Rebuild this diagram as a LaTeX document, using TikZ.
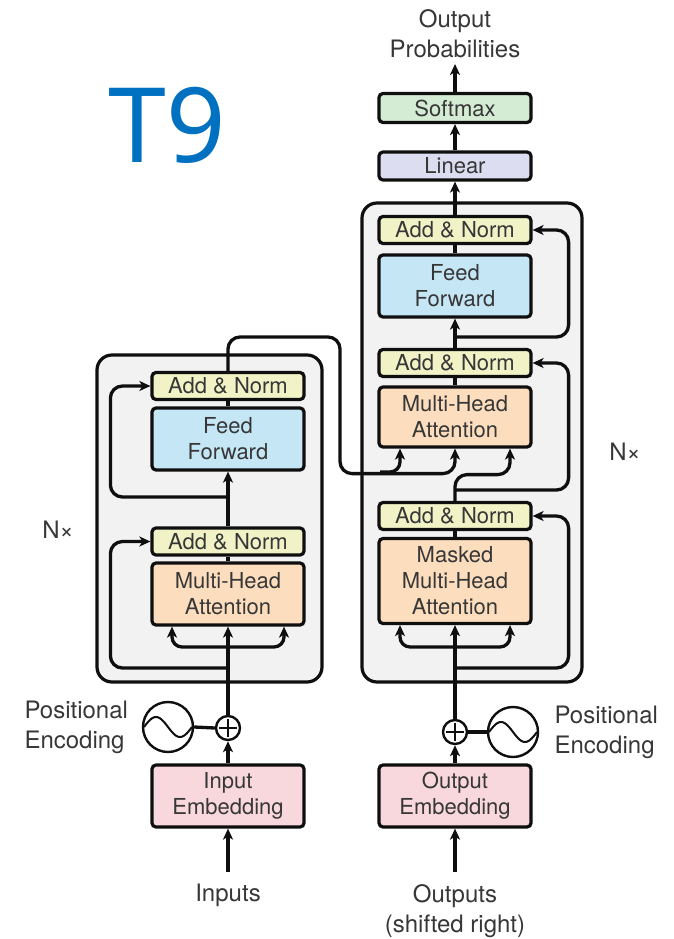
\documentclass[tikz,border=0pt]{standalone}
\usepackage{fontspec}
\setmainfont{TeX Gyre Heros}
\newfontfamily\titlefont{Noto Sans}
\usetikzlibrary{arrows.meta}

\definecolor{addnorm}{RGB}{241,243,199}
\definecolor{ffblue}{RGB}{197,230,245}
\definecolor{mhaorange}{RGB}{252,222,190}
\definecolor{embpink}{RGB}{248,216,221}
\definecolor{smgreen}{RGB}{212,235,212}
\definecolor{linlav}{RGB}{220,221,240}
\definecolor{panelgray}{RGB}{242,242,242}
\definecolor{inkline}{RGB}{15,15,15}
\definecolor{inktext}{RGB}{55,55,55}
\definecolor{titleblue}{RGB}{0,112,192}

\begin{document}
\begin{tikzpicture}[x=1pt,y=-1pt,
  line/.style={draw=inkline, line width=3.3pt, line join=round},
  arr/.style={line, -{Stealth[length=11pt,width=10pt,inset=3pt]}},
  blk/.style={draw=inkline, line width=3.2pt, rounded corners=4pt, inner sep=0pt,
    minimum width=152pt, text=inktext, align=center,
    font=\fontsize{22}{26}\selectfont},
  an/.style={blk, fill=addnorm, minimum height=27pt},
  ffb/.style={blk, fill=ffblue, minimum height=62pt},
  mhab/.style={blk, fill=mhaorange},
  embb/.style={blk, fill=embpink, minimum height=62pt},
  panel/.style={draw=inkline, line width=3.2pt, rounded corners=15pt,
    fill=panelgray, inner sep=0pt},
  lab/.style={text=inktext, align=center, font=\fontsize{24}{30}\selectfont},
  pluscirc/.style={circle, draw=inkline, line width=2.4pt, fill=white,
    minimum size=24pt, inner sep=0pt},
  wavecirc/.style={circle, draw=inkline, line width=2.4pt, fill=white,
    minimum size=50pt, inner sep=0pt},
]
\useasboundingbox (0,0) rectangle (674,939);

% title
\node[text=titleblue, font=\titlefont\fontsize{104}{110}\selectfont, anchor=base]
  (title) at (167,162) {T9};

% layer panels
\node[panel, minimum width=225pt, minimum height=327pt] (encpanel) at (209.5,518.5) {};
\node[panel, minimum width=220pt, minimum height=479pt] (decpanel) at (472,442.5) {};

% ---------------- encoder ----------------
\node[an] (ean2) at (228,386) {Add \& Norm};
\node[ffb] (eff) at (228,439) {Feed\\Forward};
\node[an] (ean1) at (228,541.5) {Add \& Norm};
\node[mhab, minimum height=62pt] (emha) at (228,594) {Multi-Head\\Attention};
\node[embb] (iemb) at (228,796) {Input\\Embedding};
\node[pluscirc] (eplus) at (228,728) {};
\node[wavecirc] (ewave) at (168,727) {};

% ---------------- decoder ----------------
\node[an] (dan3) at (455,230) {Add \& Norm};
\node[ffb] (dff) at (455,286) {Feed\\Forward};
\node[an] (dan2) at (455,363) {Add \& Norm};
\node[mhab, minimum height=60pt] (dmha) at (455,417) {Multi-Head\\Attention};
\node[an] (dan1) at (455,516) {Add \& Norm};
\node[mhab, minimum height=85pt] (dmmha) at (455,581) {Masked\\Multi-Head\\Attention};
\node[embb] (oemb) at (455,796) {Output\\Embedding};
\node[pluscirc] (dplus) at (455,732) {};
\node[wavecirc] (dwave) at (513,732) {};
\node[blk, fill=linlav, minimum height=28pt] (lin) at (455,166) {Linear};
\node[blk, fill=smgreen, minimum height=29pt] (smax) at (455,108) {Softmax};

% plus signs and sine waves
\foreach \p in {eplus,dplus}{
  \draw[line width=2pt, draw=inkline] ([yshift=9pt]\p.center) -- ([yshift=-9pt]\p.center);
  \draw[line width=2pt, draw=inkline] ([xshift=-9pt]\p.center) -- ([xshift=9pt]\p.center);
}
\foreach \w in {ewave,dwave}{
  \draw[line width=2pt, draw=inkline, shift={(\w.center)}]
    plot[domain=-24:24, samples=60, smooth] ({\x},{10*sin(\x*7.5)});
}

% text labels
\node[lab] (outprob) at (455,34) {Output\\Probabilities};
\node[lab] (inputs) at (228,895) {Inputs};
\node[lab] (outputs) at (455,911) {Outputs\\(shifted right)};
\node[lab, align=left, anchor=west] (epos) at (21,727) {Positional\\Encoding};
\node[lab, align=left, anchor=west] (dpos) at (551,732) {Positional\\Encoding};
\node[lab] (encn) at (58,530) {N×};
\node[lab] (decn) at (625,452) {N×};

% ---------------- encoder connectors ----------------
\coordinate (inp) at (228,872);
\coordinate (ebr) at (228,647);
\coordinate (ers1) at (228,668);
\coordinate (ers2) at (228,497);
\draw[arr] (inp) -- (iemb.south);
\draw[arr] (iemb.north) -- (eplus.south);
\draw[line] (ewave.east) -- (eplus.west);
\draw[arr] (eplus.north) -- (emha.south);
\draw[arr, rounded corners=10pt] (ebr) -| ([xshift=-56pt]emha.south);
\draw[arr, rounded corners=10pt] (ebr) -| ([xshift=56pt]emha.south);
\draw[arr, rounded corners=12pt] (ers1) -| ([xshift=-40pt]ean1.west) -- (ean1.west);
\draw[line] (emha.north) -- (ean1.south);
\draw[arr] (ean1.north) -- (eff.south);
\draw[arr, rounded corners=12pt] (ers2) -| ([xshift=-40pt]ean2.west) -- (ean2.west);
\draw[line] (eff.north) -- (ean2.south);

% encoder output into the decoder attention
\coordinate (xroute) at (340,337);
\coordinate (xbr) at (380,472);
\draw[arr, rounded corners=12pt] (ean2.north) |- (xroute) |- ([yshift=-25pt]dmha.south) -- (dmha.south);
\draw[arr, rounded corners=10pt] (xbr) -| ([xshift=-55pt]dmha.south);

% ---------------- decoder connectors ----------------
\coordinate (oinp) at (455,872);
\coordinate (dbr) at (455,647);
\coordinate (drs1) at (455,668);
\coordinate (drs2) at (455,490);
\coordinate (drs3) at (455,337);
\coordinate (probtop) at (455,64);
\draw[arr] (oinp) -- (oemb.south);
\draw[arr] (oemb.north) -- (dplus.south);
\draw[line] (dplus.east) -- (dwave.west);
\draw[arr] (dplus.north) -- (dmmha.south);
\draw[arr, rounded corners=10pt] (dbr) -| ([xshift=-55pt]dmmha.south);
\draw[arr, rounded corners=10pt] (dbr) -| ([xshift=55pt]dmmha.south);
\draw[arr, rounded corners=12pt] (drs1) -| ([xshift=36pt]dan1.east) -- (dan1.east);
\draw[line] (dmmha.north) -- (dan1.south);
\draw[arr, rounded corners=12pt] (dan1.north) |- ([xshift=55pt,yshift=-26pt]dmha.south) -- ([xshift=55pt]dmha.south);
\draw[arr, rounded corners=12pt] (drs2) -| ([xshift=36pt]dan2.east) -- (dan2.east);
\draw[line] (dmha.north) -- (dan2.south);
\draw[arr] (dan2.north) -- (dff.south);
\draw[arr, rounded corners=12pt] (drs3) -| ([xshift=36pt]dan3.east) -- (dan3.east);
\draw[line] (dff.north) -- (dan3.south);
\draw[arr] (dan3.north) -- (lin.south);
\draw[arr] (lin.north) -- (smax.south);
\draw[arr] (smax.north) -- (probtop);
\end{tikzpicture}
\end{document}
